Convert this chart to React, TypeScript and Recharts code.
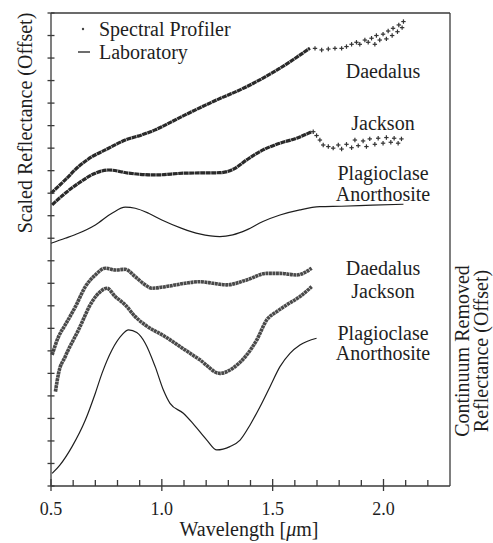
import React from 'react';
import { ComposedChart, Line, Scatter, XAxis, YAxis } from 'recharts';

// x axis: wavelength in micrometres
const wavelengthTicks = [0.5, 0.6, 0.7, 0.8, 0.9, 1.0, 1.1, 1.2, 1.3, 1.4, 1.5, 1.6, 1.7, 1.8, 1.9, 2.0, 2.1, 2.2];
const majorTicks = [0.5, 1.0, 1.5, 2.0];
// left axis has 21 unlabelled intervals, right axis 5
const leftTicks = [0, 1, 2, 3, 4, 5, 6, 7, 8, 9, 10, 11, 12, 13, 14, 15, 16, 17, 18, 19, 20, 21];
const rightTicks = [1, 2, 3, 4];

// upper panel: scaled reflectance (offset)
const daedalusSP = [
  { x: 0.5, y: 13.0 }, { x: 0.564, y: 13.59 }, { x: 0.624, y: 14.18 }, { x: 0.685, y: 14.62 },
  { x: 0.745, y: 14.92 }, { x: 0.835, y: 15.36 }, { x: 0.91, y: 15.59 }, { x: 0.97, y: 15.81 },
  { x: 1.0, y: 15.95 }, { x: 1.09, y: 16.4 }, { x: 1.232, y: 17.07 }, { x: 1.383, y: 17.73 },
  { x: 1.533, y: 18.55 }, { x: 1.668, y: 19.44 },
];
const daedalusTail = [
  { x: 1.691, y: 19.43 }, { x: 1.721, y: 19.36 }, { x: 1.751, y: 19.4 }, { x: 1.781, y: 19.43 },
  { x: 1.811, y: 19.43 }, { x: 1.833, y: 19.51 }, { x: 1.856, y: 19.61 }, { x: 1.878, y: 19.7 },
  { x: 1.893, y: 19.61 }, { x: 1.916, y: 19.8 }, { x: 1.931, y: 19.7 }, { x: 1.946, y: 19.88 },
  { x: 1.961, y: 19.61 }, { x: 1.968, y: 20.0 }, { x: 1.983, y: 19.8 }, { x: 1.998, y: 20.06 },
  { x: 2.013, y: 19.85 }, { x: 2.021, y: 20.2 }, { x: 2.039, y: 20.0 }, { x: 2.043, y: 20.32 },
  { x: 2.063, y: 20.17 }, { x: 2.069, y: 20.47 }, { x: 2.084, y: 20.35 }, { x: 2.09, y: 20.62 },
];
const jacksonSP = [
  { x: 0.505, y: 12.48 }, { x: 0.564, y: 13.0 }, { x: 0.624, y: 13.44 }, { x: 0.7, y: 13.89 },
  { x: 0.76, y: 14.03 }, { x: 0.85, y: 13.89 }, { x: 0.97, y: 13.81 }, { x: 1.105, y: 13.89 },
  { x: 1.262, y: 13.91 }, { x: 1.322, y: 14.06 }, { x: 1.383, y: 14.48 }, { x: 1.456, y: 14.92 },
  { x: 1.533, y: 15.22 }, { x: 1.608, y: 15.44 }, { x: 1.676, y: 15.73 },
];
const jacksonTail = [
  { x: 1.683, y: 15.73 }, { x: 1.698, y: 15.56 }, { x: 1.713, y: 15.36 }, { x: 1.728, y: 15.14 },
  { x: 1.751, y: 15.07 }, { x: 1.773, y: 15.0 }, { x: 1.796, y: 15.14 }, { x: 1.811, y: 14.96 },
  { x: 1.833, y: 15.17 }, { x: 1.856, y: 15.02 }, { x: 1.871, y: 15.36 }, { x: 1.886, y: 15.11 },
  { x: 1.908, y: 15.32 }, { x: 1.923, y: 15.07 }, { x: 1.938, y: 15.41 }, { x: 1.961, y: 15.17 },
  { x: 1.976, y: 15.44 }, { x: 1.998, y: 15.22 }, { x: 2.013, y: 15.47 }, { x: 2.033, y: 15.26 },
  { x: 2.048, y: 15.44 }, { x: 2.066, y: 15.22 }, { x: 2.081, y: 15.41 },
];
const plagioclaseLab = [
  { x: 0.5, y: 10.78 }, { x: 0.564, y: 11.0 }, { x: 0.624, y: 11.22 }, { x: 0.7, y: 11.59 },
  { x: 0.775, y: 12.11 }, { x: 0.835, y: 12.38 }, { x: 0.88, y: 12.33 }, { x: 0.94, y: 12.11 },
  { x: 1.0, y: 11.81 }, { x: 1.09, y: 11.44 }, { x: 1.17, y: 11.19 }, { x: 1.262, y: 11.07 },
  { x: 1.32, y: 11.15 }, { x: 1.383, y: 11.37 }, { x: 1.456, y: 11.74 }, { x: 1.533, y: 12.03 },
  { x: 1.623, y: 12.26 }, { x: 1.713, y: 12.4 }, { x: 1.81, y: 12.42 }, { x: 1.95, y: 12.47 },
  { x: 2.09, y: 12.51 },
];

// lower panel: continuum removed reflectance (offset)
const daedalusCR = [
  { x: 0.505, y: 5.82 }, { x: 0.534, y: 6.63 }, { x: 0.564, y: 7.15 }, { x: 0.61, y: 7.96 },
  { x: 0.655, y: 8.85 }, { x: 0.7, y: 9.37 }, { x: 0.745, y: 9.67 }, { x: 0.79, y: 9.59 },
  { x: 0.835, y: 9.62 }, { x: 0.88, y: 9.29 }, { x: 0.925, y: 8.93 }, { x: 0.955, y: 8.78 },
  { x: 1.015, y: 8.85 }, { x: 1.105, y: 9.0 }, { x: 1.172, y: 9.07 }, { x: 1.232, y: 9.0 },
  { x: 1.293, y: 8.93 }, { x: 1.383, y: 9.15 }, { x: 1.473, y: 9.44 }, { x: 1.533, y: 9.44 },
  { x: 1.608, y: 9.37 }, { x: 1.676, y: 9.67 },
];
const jacksonCR = [
  { x: 0.52, y: 4.19 }, { x: 0.534, y: 5.0 }, { x: 0.564, y: 5.74 }, { x: 0.624, y: 6.93 },
  { x: 0.685, y: 8.18 }, { x: 0.715, y: 8.56 }, { x: 0.752, y: 8.78 }, { x: 0.79, y: 8.41 },
  { x: 0.835, y: 8.04 }, { x: 0.88, y: 7.52 }, { x: 0.925, y: 7.15 }, { x: 1.015, y: 6.63 },
  { x: 1.105, y: 6.04 }, { x: 1.172, y: 5.6 }, { x: 1.262, y: 5.0 }, { x: 1.32, y: 5.23 },
  { x: 1.383, y: 5.82 }, { x: 1.428, y: 6.48 }, { x: 1.473, y: 7.37 }, { x: 1.518, y: 7.74 },
  { x: 1.563, y: 8.04 }, { x: 1.623, y: 8.41 }, { x: 1.676, y: 8.85 },
];
const plagioclaseCR = [
  { x: 0.505, y: 0.56 }, { x: 0.54, y: 0.93 }, { x: 0.595, y: 1.75 }, { x: 0.655, y: 2.93 },
  { x: 0.7, y: 4.12 }, { x: 0.73, y: 5.0 }, { x: 0.775, y: 6.04 }, { x: 0.82, y: 6.71 },
  { x: 0.85, y: 6.93 }, { x: 0.887, y: 6.81 }, { x: 0.925, y: 6.34 }, { x: 0.97, y: 5.3 },
  { x: 1.007, y: 4.26 }, { x: 1.037, y: 3.67 }, { x: 1.097, y: 3.23 }, { x: 1.14, y: 2.78 },
  { x: 1.203, y: 2.04 }, { x: 1.248, y: 1.6 }, { x: 1.307, y: 1.75 }, { x: 1.353, y: 2.04 },
  { x: 1.398, y: 2.71 }, { x: 1.443, y: 3.52 }, { x: 1.488, y: 4.41 }, { x: 1.533, y: 5.3 },
  { x: 1.578, y: 5.89 }, { x: 1.623, y: 6.26 }, { x: 1.698, y: 6.56 },
];

const FONT = "'Liberation Serif', 'DejaVu Serif', 'Times New Roman', serif";
const AXIS = '#3a3a3a';
const INK = '#1e1e1e';

const textStyle: React.CSSProperties = { fontSize: 20, fontFamily: FONT, fill: INK };
const tickStyle: React.CSSProperties = { fontSize: 18, fontFamily: FONT, fill: INK };

const isMajor = (v: number) => majorTicks.some((m) => Math.abs(m - v) < 1e-6);

const XTick = (props: any) => {
  const { x, y, payload } = props;
  const major = isMajor(payload.value);
  return (
    <g>
      <line x1={x} x2={x} y1={major ? y + 5 : y} y2={major ? y - 7 : y - 6} stroke={AXIS} strokeWidth={1.3} />
      {major && (
        <text x={x} y={y + 29} textAnchor="middle" style={tickStyle}>
          {payload.value.toFixed(1)}
        </text>
      )}
    </g>
  );
};

const LeftTick = (props: any) => {
  const { x, y } = props;
  return <line x1={x - 3.5} x2={x + 3.5} y1={y} y2={y} stroke={AXIS} strokeWidth={1.3} />;
};

const RightTick = (props: any) => {
  const { x, y } = props;
  return <line x1={x - 6} x2={x} y1={y} y2={y} stroke={AXIS} strokeWidth={1.3} />;
};

const Cross = (props: any) => {
  const { cx, cy } = props;
  return (
    <g stroke="#333" strokeWidth={1.2}>
      <line x1={cx - 2.2} x2={cx + 2.2} y1={cy} y2={cy} />
      <line x1={cx} x2={cx} y1={cy - 2.2} y2={cy + 2.2} />
    </g>
  );
};

const App: React.FC = () => {
  return (
    <div style={{ position: 'absolute', left: 0, top: 0, width: 493, height: 543, background: '#fff', fontFamily: FONT }}>
      <ComposedChart width={493} height={543} margin={{ top: 12, right: 42, bottom: 56, left: 50 }}>
        <XAxis
          dataKey="x"
          type="number"
          domain={[0.5, 2.3]}
          ticks={wavelengthTicks}
          interval={0}
          height={1}
          tickSize={0}
          tickMargin={0}
          tickLine={false}
          tick={<XTick />}
          axisLine={{ stroke: AXIS, strokeWidth: 1.3 }}
        />
        <XAxis
          xAxisId="top"
          orientation="top"
          type="number"
          domain={[0.5, 2.3]}
          height={1}
          tick={false}
          tickLine={false}
          axisLine={{ stroke: AXIS, strokeWidth: 1.3 }}
        />
        <YAxis
          yAxisId="left"
          dataKey="y"
          type="number"
          domain={[0, 21]}
          ticks={leftTicks}
          interval={0}
          width={1}
          tickSize={0}
          tickMargin={0}
          tickLine={false}
          tick={<LeftTick />}
          axisLine={{ stroke: AXIS, strokeWidth: 1.3 }}
        />
        <YAxis
          yAxisId="right"
          orientation="right"
          type="number"
          domain={[0, 5]}
          ticks={rightTicks}
          interval={0}
          width={1}
          tickSize={0}
          tickMargin={0}
          tickLine={false}
          tick={<RightTick />}
          axisLine={{ stroke: AXIS, strokeWidth: 1.3 }}
        />

        <Line yAxisId="left" data={plagioclaseLab} dataKey="y" type="monotone" stroke={INK} strokeWidth={1.2} dot={false} isAnimationActive={false} />
        <Line yAxisId="left" data={plagioclaseCR} dataKey="y" type="monotone" stroke={INK} strokeWidth={1.2} dot={false} isAnimationActive={false} />

        <Line yAxisId="left" data={daedalusSP} dataKey="y" type="monotone" stroke="#2a2a2a" strokeWidth={3.2} strokeDasharray="5 0.5" dot={false} isAnimationActive={false} />
        <Line yAxisId="left" data={jacksonSP} dataKey="y" type="monotone" stroke="#2a2a2a" strokeWidth={3.2} strokeDasharray="5 0.5" dot={false} isAnimationActive={false} />
        <Line yAxisId="left" data={daedalusCR} dataKey="y" type="monotone" stroke="#4a4a4a" strokeWidth={3.6} strokeDasharray="3 0.5" dot={false} isAnimationActive={false} />
        <Line yAxisId="left" data={jacksonCR} dataKey="y" type="monotone" stroke="#4a4a4a" strokeWidth={3.6} strokeDasharray="3 0.5" dot={false} isAnimationActive={false} />

        <Scatter yAxisId="left" data={daedalusTail} shape={<Cross />} isAnimationActive={false} />
        <Scatter yAxisId="left" data={jacksonTail} shape={<Cross />} isAnimationActive={false} />
      </ComposedChart>

      <svg width={493} height={543} style={{ position: 'absolute', left: 0, top: 0, pointerEvents: 'none' }}>
        {/* legend */}
        <circle cx={83} cy={29} r={1.2} fill="#444" />
        <text x={99} y={36} style={textStyle}>Spectral Profiler</text>
        <line x1={78} x2={90} y1={52} y2={52} stroke={INK} strokeWidth={1.3} />
        <text x={99} y={59} style={textStyle}>Laboratory</text>

        {/* sample labels, upper panel */}
        <text x={383} y={78} textAnchor="middle" style={textStyle}>Daedalus</text>
        <text x={383} y={130} textAnchor="middle" style={textStyle}>Jackson</text>
        <text x={383} y={180} textAnchor="middle" style={textStyle}>Plagioclase</text>
        <text x={383} y={201} textAnchor="middle" style={textStyle}>Anorthosite</text>

        {/* sample labels, lower panel */}
        <text x={383} y={275} textAnchor="middle" style={textStyle}>Daedalus</text>
        <text x={383} y={298} textAnchor="middle" style={textStyle}>Jackson</text>
        <text x={383} y={340} textAnchor="middle" style={textStyle}>Plagioclase</text>
        <text x={383} y={360} textAnchor="middle" style={textStyle}>Anorthosite</text>

        {/* axis titles */}
        <text transform="translate(32,123) rotate(-90)" textAnchor="middle" style={textStyle}>Scaled Reflectance (Offset)</text>
        <text transform="translate(469,351) rotate(-90)" textAnchor="middle" style={textStyle}>Continuum Removed</text>
        <text transform="translate(488,351) rotate(-90)" textAnchor="middle" style={textStyle}>Reflectance (Offset)</text>
        <text x={249} y={536} textAnchor="middle" style={textStyle}>
          Wavelength [<tspan fontStyle="italic">μ</tspan>m]
        </text>
      </svg>
    </div>
  );
};

export default App;
